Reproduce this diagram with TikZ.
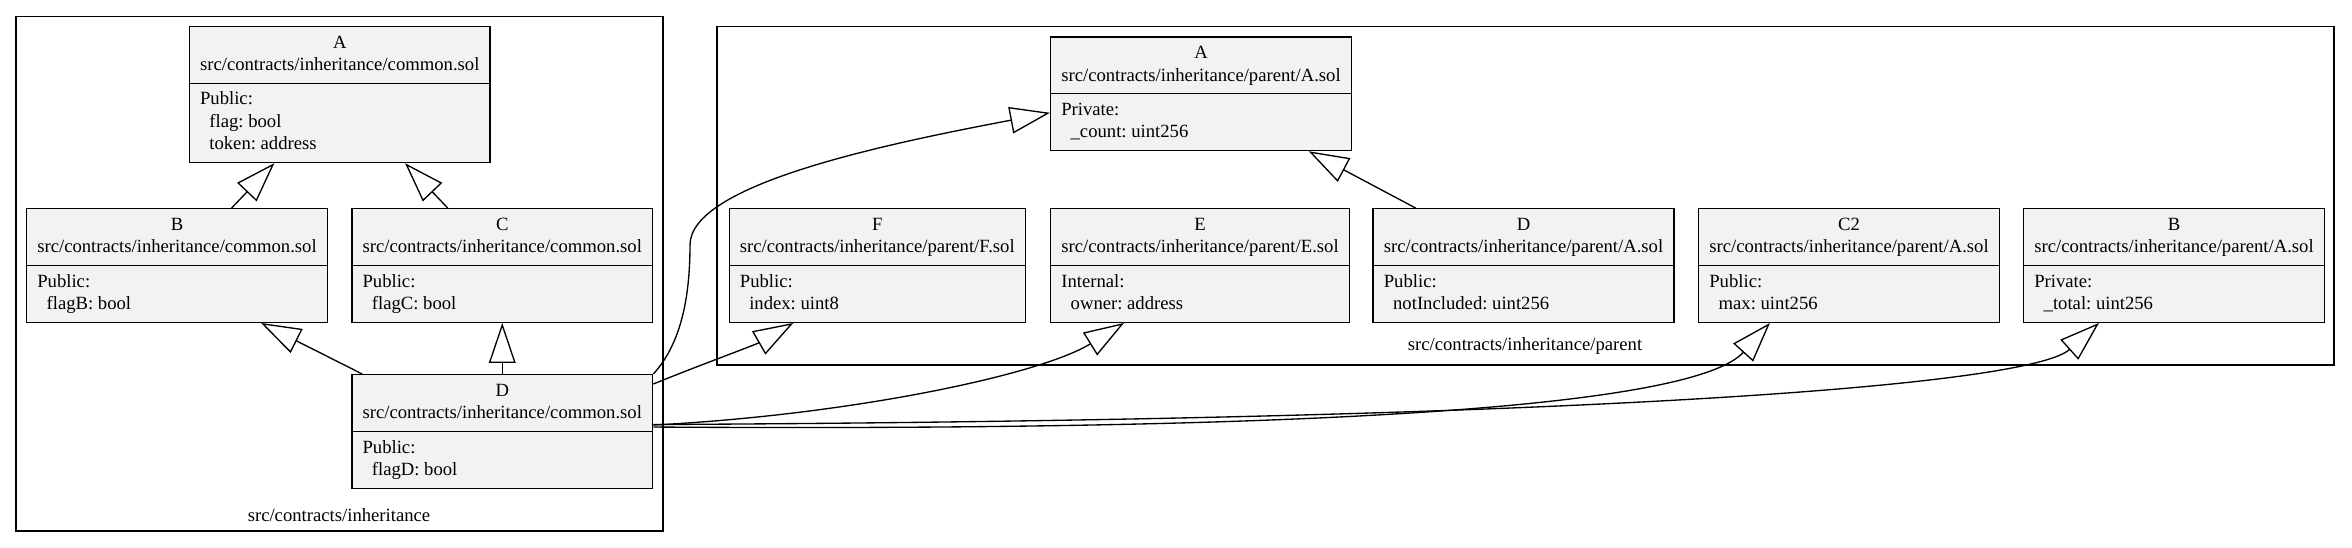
\documentclass[tikz,border=0pt]{standalone}
\usepackage{fontspec}
\setmainfont{Liberation Serif}
\usetikzlibrary{shapes.multipart,arrows.meta,calc}
\definecolor{boxgray}{HTML}{F2F2F2}
\newcommand{\clshead}[2]{\begin{tabular}{@{}c@{}}#1\\#2\end{tabular}}
\newcommand{\clsbody}[1]{\begin{tabular}{@{}l@{}}#1\end{tabular}}
\newcommand{\fieldind}{\hspace*{7pt}}
\frenchspacing

\begin{document}
\begin{tikzpicture}[x=0.75pt, y=-0.75pt,
    font=\fontsize{14pt}{16.8pt}\selectfont,
    cls/.style={rectangle split, rectangle split parts=2,
      rectangle split part align={center,left}, draw, fill=boxgray,
      inner xsep=8pt, inner ysep=4pt, line width=1pt},
    inh/.style={-{Triangle[length=30pt, width=20pt, fill=white]}, line width=1pt}]
  \useasboundingbox (0,0) rectangle (2352,548);

  % src/contracts/inheritance
  \draw[line width=1pt] (16,16.5) rectangle (663,531);
  \node (lblInh) at (339,514.7) {src/contracts/inheritance};

  \node[cls] (A) at (339.75,94.5) {\clshead{A}{src/contracts/inheritance/common.sol}\nodepart{two}\clsbody{Public:\\\fieldind flag: bool\\\fieldind token: address}};
  \node[cls] (B) at (177,265.5) {\clshead{B}{src/contracts/inheritance/common.sol}\nodepart{two}\clsbody{Public:\\\fieldind flagB: bool}};
  \node[cls] (C) at (502.25,265.5) {\clshead{C}{src/contracts/inheritance/common.sol}\nodepart{two}\clsbody{Public:\\\fieldind flagC: bool}};
  \node[cls] (D) at (502.25,431.5) {\clshead{D}{src/contracts/inheritance/common.sol}\nodepart{two}\clsbody{Public:\\\fieldind flagD: bool}};

  % src/contracts/inheritance/parent
  \draw[line width=1pt] (717,26.7) rectangle (2334,365);
  \node (lblParent) at (1525,346) {src/contracts/inheritance/parent};

  \node[cls] (PA) at (1201,93.8) {\clshead{A}{src/contracts/inheritance/parent/A.sol}\nodepart{two}\clsbody{Private:\\\fieldind \_count: uint256}};
  \node[cls] (F) at (877.3,265.5) {\clshead{F}{src/contracts/inheritance/parent/F.sol}\nodepart{two}\clsbody{Public:\\\fieldind index: uint8}};
  \node[cls] (E) at (1200,265.5) {\clshead{E}{src/contracts/inheritance/parent/E.sol}\nodepart{two}\clsbody{Internal:\\\fieldind owner: address}};
  \node[cls] (PD) at (1523.5,265.5) {\clshead{D}{src/contracts/inheritance/parent/A.sol}\nodepart{two}\clsbody{Public:\\\fieldind notIncluded: uint256}};
  \node[cls] (C2) at (1849,265.5) {\clshead{C2}{src/contracts/inheritance/parent/A.sol}\nodepart{two}\clsbody{Public:\\\fieldind max: uint256}};
  \node[cls] (PB) at (2174,265.5) {\clshead{B}{src/contracts/inheritance/parent/A.sol}\nodepart{two}\clsbody{Private:\\\fieldind \_total: uint256}};

  % inheritance edges
  \draw[inh] (B) -- (A);
  \draw[inh] (C) -- (A);
  \draw[inh] ($(D.north)+(-140,0)$) -- ($(B.south)+(84,0)$);
  \draw[inh] (D) -- (C);
  \draw[inh] (PD) -- (PA);
  \draw[inh] (D.north east) .. controls (680,345) and (690,300) .. (690,245)
    .. controls (690,185) and (880,145) .. ($(PA.west)+(0,19)$);
  \draw[inh] ($(D.north east)+(0,10)$) .. controls (700,365) and (755,345) .. ($(F.south)+(-84,0)$);
  \draw[inh] ($(D.north east)+(0,51)$) .. controls (850,415) and (1040,375) .. ($(E.south)+(-76,0)$);
  \draw[inh] ($(D.north east)+(0,53)$) .. controls (1400,432) and (1700,400) .. ($(C2.south)+(-79,0)$);
  \draw[inh] ($(D.north east)+(0,50.5)$) .. controls (1600,420) and (2030,385) .. ($(PB.south)+(-75,0)$);
\end{tikzpicture}
\end{document}
